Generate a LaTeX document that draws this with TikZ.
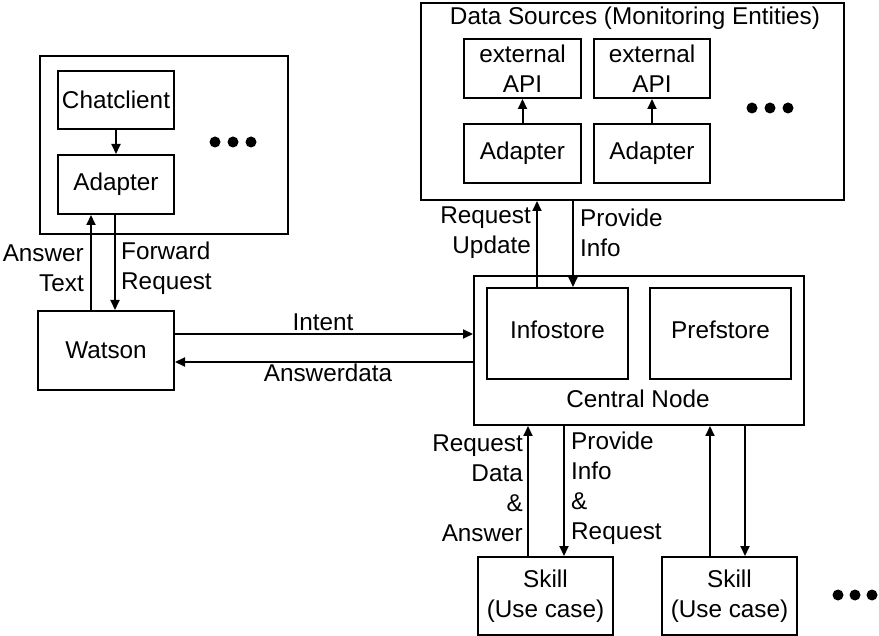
\documentclass[tikz,border=0pt]{standalone}
\usepackage{fontspec}
\setmainfont{Liberation Sans}
\usetikzlibrary{arrows.meta}
\begin{document}
\begin{tikzpicture}[x=1pt,y=-1pt,
  every node/.style={font=\fontsize{24.3}{30}\selectfont},
  box/.style={draw,line width=2pt,inner sep=0pt,anchor=north west,align=center},
  arr/.style={line width=2pt,-{Triangle[length=10pt,width=9pt]}},
  lbl/.style={inner sep=0pt},
  bigdot/.style={circle,fill,inner sep=0pt,minimum size=11pt}]
\useasboundingbox (0,0) rectangle (879,636);
% left group
\node[box,minimum width=248pt,minimum height=178pt] (chatgrp) at (39,55) {};
\node[box,minimum width=116pt,minimum height=58pt] (chat) at (57,70) {Chatclient};
\node[box,minimum width=116pt,minimum height=59pt] (adapt) at (57,154) {Adapter};
\node[box,minimum width=136pt,minimum height=79pt] (watson) at (37,310) {Watson};
\node[bigdot] (d1) at (215,142) {};
\node[bigdot] (d2) at (233,142) {};
\node[bigdot] (d3) at (251,142) {};
% data sources
\node[box,minimum width=423pt,minimum height=197pt] (ds) at (420,2) {};
\node[lbl] (dstitle) at (635,18) {Data Sources (Monitoring Entities)};
\node[box,minimum width=117pt,minimum height=59pt] (ext1) at (463,38) {external\\API};
\node[box,minimum width=116pt,minimum height=59pt] (ext2) at (593,38) {external\\API};
\node[box,minimum width=117pt,minimum height=59pt] (ad1) at (463,123) {Adapter};
\node[box,minimum width=116pt,minimum height=59pt] (ad2) at (593,123) {Adapter};
\node[bigdot] (e1) at (752,108) {};
\node[bigdot] (e2) at (770,108) {};
\node[bigdot] (e3) at (788,108) {};
% central node
\node[box,minimum width=330pt,minimum height=149pt] (central) at (473,275) {};
\node[box,minimum width=141pt,minimum height=91pt,text depth=8pt] (info) at (486,287) {Infostore};
\node[box,minimum width=141pt,minimum height=91pt,text depth=8pt] (pref) at (649,287) {Prefstore};
\node[lbl] (cnlabel) at (638,399) {Central Node};
% skills
\node[box,minimum width=135pt,minimum height=78pt] (skill1) at (477,556) {Skill\\(Use case)};
\node[box,minimum width=135pt,minimum height=78pt] (skill2) at (661,556) {Skill\\(Use case)};
\node[bigdot] (s1) at (838,595) {};
\node[bigdot] (s2) at (855,595) {};
\node[bigdot] (s3) at (872,595) {};
% helper coordinates
\coordinate (xa) at (91,0);
\coordinate (xf) at (115,0);
\coordinate (xru) at (537,0);
\coordinate (xpi) at (573,0);
\coordinate (yint) at (0,334);
\coordinate (yans) at (0,362);
\coordinate (xs1u) at (528,0);
\coordinate (xs1d) at (564,0);
\coordinate (xs2u) at (710,0);
\coordinate (xs2d) at (745,0);
% connectors
\draw[arr] (chat.south) -- (adapt.north);
\draw[arr] (ad1.north) -- (ext1.south);
\draw[arr] (ad2.north) -- (ext2.south);
\draw[arr] (watson.north -| xa) -- (adapt.south -| xa);
\draw[arr] (adapt.south -| xf) -- (watson.north -| xf);
\draw[arr] (info.north -| xru) -- (ds.south -| xru);
\draw[arr] (ds.south -| xpi) -- (info.north -| xpi);
\draw[arr] (watson.east |- yint) -- (central.west |- yint);
\draw[arr] (central.west |- yans) -- (watson.east |- yans);
\draw[arr] (skill1.north -| xs1u) -- (central.south -| xs1u);
\draw[arr] (central.south -| xs1d) -- (skill1.north -| xs1d);
\draw[arr] (skill2.north -| xs2u) -- (central.south -| xs2u);
\draw[arr] (central.south -| xs2d) -- (skill2.north -| xs2d);
% labels
\node[lbl,anchor=east,align=right] (lansw) at (84,268) {Answer\\Text};
\node[lbl,anchor=west,align=left] (lfwd) at (121,268) {Forward\\Request};
\node[lbl,anchor=east,align=right] (lreq) at (531,233) {Request\\Update};
\node[lbl,anchor=west,align=left] (lprov) at (580,233) {Provide\\Info};
\node[lbl] (lint) at (323,322) {Intent};
\node[lbl] (lad) at (328,373) {Answerdata};
\node[lbl,anchor=east,align=right] (lrda) at (523,488) {Request\\Data\\\&\\Answer};
\node[lbl,anchor=west,align=left] (lpir) at (571,488) {Provide\\Info\\\&\\Request};
\end{tikzpicture}
\end{document}
